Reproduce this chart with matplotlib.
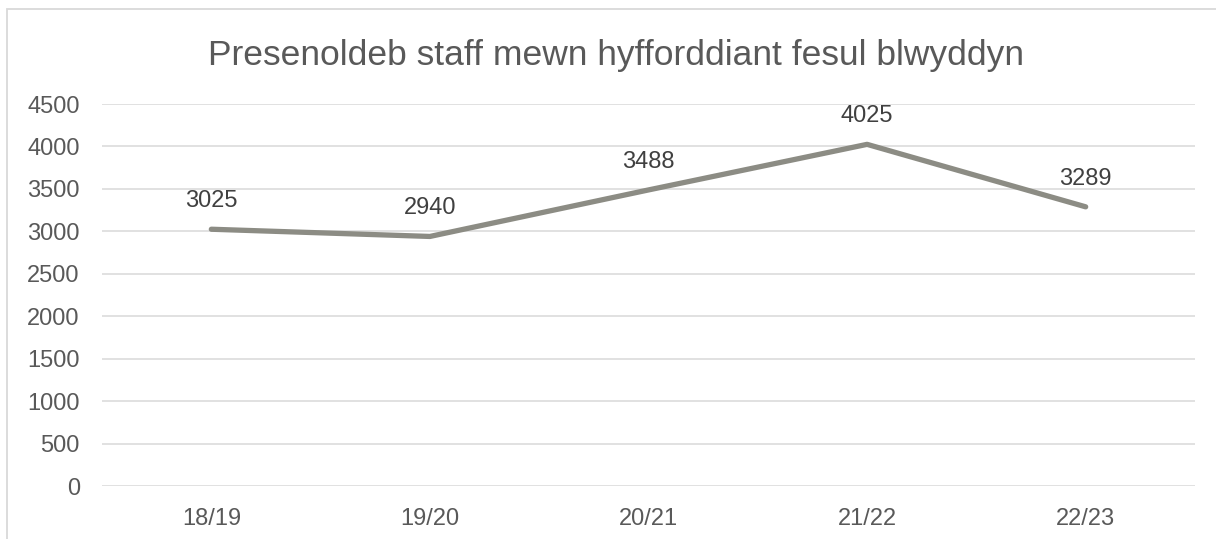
import matplotlib
matplotlib.use('Agg')
import matplotlib.pyplot as plt
import matplotlib.patches as patches

years = ['18/19', '19/20', '20/21', '21/22', '22/23']
attendance = [3025, 2940, 3488, 4025, 3289]
yticks = [0, 500, 1000, 1500, 2000, 2500, 3000, 3500, 4000, 4500]
title = 'Presenoldeb staff mewn hyfforddiant fesul blwyddyn'

plt.rcParams['font.family'] = ['Liberation Sans', 'DejaVu Sans']

fig = plt.figure(figsize = (12.16, 5.39), dpi = 100)
ax = fig.add_axes([0.0839, 0.0983, 0.8988, 0.7087])

# chart frame (cropped on right and bottom)
fig.patches.append(patches.Rectangle((7 / 1216, -0.1), 1.2, 1 - 8.5 / 539 + 0.1,
	transform = fig.transFigure, fill = False, edgecolor = '#d9d9d9', linewidth = 1.3))

xs = range(len(years))
ax.plot(xs, attendance, color = '#8c8c84', linewidth = 3.8, solid_capstyle = 'round', zorder = 3)

for x, v in zip(xs, attendance):
	ax.annotate(str(v), (x, v), xytext = (0, 28), textcoords = 'offset pixels',
		ha = 'center', va = 'center', fontsize = 17, color = '#404040')

ax.set_xlim(-0.5, len(years) - 0.5)
ax.set_ylim(0, 4500)
ax.set_yticks(yticks)
ax.set_xticks(list(xs))
ax.set_xticklabels(years)
ax.yaxis.grid(True, color = '#d9d9d9', linewidth = 1.1)
ax.set_axisbelow(True)
for side in ['top', 'right', 'left', 'bottom']:
	ax.spines[side].set_visible(False)
ax.tick_params(length = 0, labelsize = 17, labelcolor = '#595959')
ax.tick_params(axis = 'y', pad = 16)
ax.tick_params(axis = 'x', pad = 16)

fig.text(616 / 1216, 1 - 55 / 539, title, ha = 'center', va = 'center', fontsize = 25.5, color = '#595959')

fig.savefig('out.png', dpi = 100)
